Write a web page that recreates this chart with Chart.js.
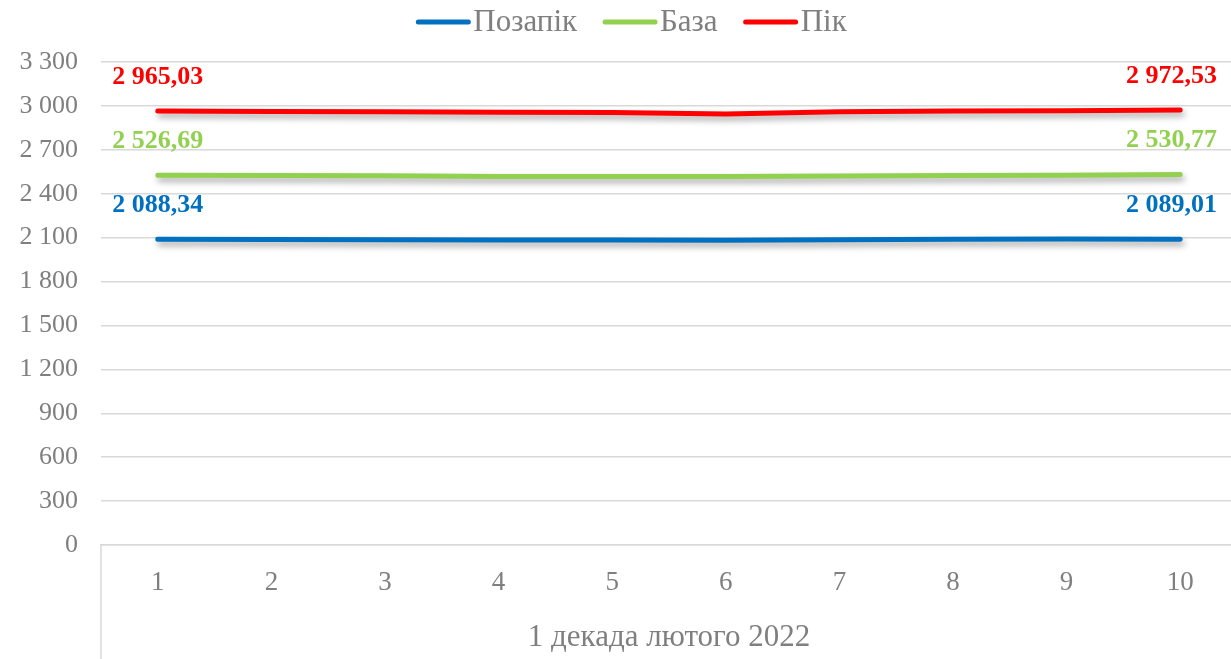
<!DOCTYPE html>
<html>
<head>
<meta charset="utf-8">
<script src="https://cdn.jsdelivr.net/npm/chart.js@4/dist/chart.umd.min.js"></script>
<style>
  html, body { margin: 0; padding: 0; background: #fff; overflow: hidden; width: 1231px; height: 659px; }
  #wrap { position: absolute; left: 0; top: 0; width: 1240px; height: 659px; }
</style>
</head>
<body>
<div id="wrap"><canvas id="c" width="1240" height="659" style="width:1240px;height:659px"></canvas></div>
<script>
const categories = ['1','2','3','4','5','6','7','8','9','10'];
const groupLabel = '1 декада лютого 2022';
const seriesNames = ['Позапік', 'База', 'Пік'];
const pozapik = [2088.34, 2087, 2086, 2083, 2084, 2082, 2086, 2089, 2090, 2089.01];
const baza    = [2526.69, 2524, 2522, 2518, 2518, 2517, 2521, 2524, 2526, 2530.77];
const pik     = [2965.03, 2962, 2960, 2957, 2955, 2945, 2960, 2965, 2967, 2972.53];
const seriesColors = ['#0070C0', '#92D050', '#FF0000'];
const yMin = 0, yMax = 3300, yStep = 300;

const FONT = "'Liberation Serif', 'Times New Roman', serif";
const GRAY = '#7f7f7f';
const GRID = '#d9d9d9';

function fmtInt(n) {
  return String(n).replace(/\B(?=(\d{3})+(?!\d))/g, ' ');
}
function fmtVal(v) {
  const [i, d] = v.toFixed(2).split('.');
  return fmtInt(i) + ',' + d;
}

const shadowPlugin = {
  id: 'shadow',
  beforeDatasetDraw(chart) {
    const ctx = chart.ctx;
    ctx.save();
    ctx.shadowColor = 'rgba(0,0,0,0.35)';
    ctx.shadowBlur = 6;
    ctx.shadowOffsetX = 2;
    ctx.shadowOffsetY = 4;
  },
  afterDatasetDraw(chart) {
    chart.ctx.restore();
  }
};

const decorPlugin = {
  id: 'decor',
  afterDraw(chart) {
    const ctx = chart.ctx;
    const a = chart.chartArea;
    // category group separators
    ctx.save();
    ctx.strokeStyle = GRID;
    ctx.lineWidth = 1.5;
    [a.left, a.right].forEach(x => {
      ctx.beginPath();
      ctx.moveTo(x, a.bottom);
      ctx.lineTo(x, chart.height);
      ctx.stroke();
    });
    ctx.restore();

    // data labels at first and last points
    ctx.save();
    ctx.font = "bold 26px " + FONT;
    ctx.textAlign = 'center';
    ctx.textBaseline = 'middle';
    chart.data.datasets.forEach((ds, di) => {
      const meta = chart.getDatasetMeta(di);
      const last = ds.data.length - 1;
      [0, last].forEach(i => {
        const pt = meta.data[i];
        const txt = fmtVal(ds.data[i]);
        const w = ctx.measureText(txt).width;
        let x = pt.x;
        const maxX = 1231 - 14 - w / 2;
        if (x > maxX) x = maxX;
        ctx.fillStyle = ds.borderColor;
        ctx.fillText(txt, x, pt.y - 34);
      });
    });
    ctx.restore();

    // legend
    ctx.save();
    ctx.font = "31px " + FONT;
    ctx.textBaseline = 'middle';
    const lineW = 56, gapText = 2, gapItem = 25;
    const widths = chart.data.datasets.map(ds => lineW + gapText + ctx.measureText(ds.label).width);
    const total = widths.reduce((s, w) => s + w, 0) + gapItem * (widths.length - 1);
    let x = 631 - total / 2;
    const y = 22;
    chart.data.datasets.forEach((ds, di) => {
      ctx.strokeStyle = ds.borderColor;
      ctx.lineWidth = 5;
      ctx.lineCap = 'round';
      ctx.beginPath();
      ctx.moveTo(x + 3, y);
      ctx.lineTo(x + lineW - 3, y);
      ctx.stroke();
      ctx.fillStyle = GRAY;
      ctx.textAlign = 'left';
      ctx.fillText(ds.label, x + lineW + gapText, y + 1);
      x += widths[di] + gapItem;
    });
    ctx.restore();
  }
};

const seriesData = [pozapik, baza, pik];

new Chart(document.getElementById('c'), {
  type: 'line',
  data: {
    labels: categories,
    datasets: seriesData.map((d, i) => ({
      label: seriesNames[i],
      data: d,
      borderColor: seriesColors[i],
      backgroundColor: seriesColors[i],
      borderWidth: 5,
      borderCapStyle: 'round',
      borderJoinStyle: 'round',
      pointRadius: 0,
      tension: 0,
      fill: false
    }))
  },
  options: {
    responsive: false,
    animation: false,
    devicePixelRatio: 1,
    layout: { padding: { top: 62, left: 0, right: 3, bottom: 0 } },
    plugins: {
      legend: { display: false },
      tooltip: { enabled: false }
    },
    scales: {
      x: {
        offset: true,
        grid: { display: false, drawTicks: false },
        border: { display: true, color: GRID, width: 1.5 },
        ticks: { color: GRAY, font: { family: FONT, size: 27 }, padding: 22, maxRotation: 0 },
        title: { display: true, text: groupLabel, color: GRAY, font: { family: FONT, size: 31 }, padding: { top: 4, bottom: 3 } },
        afterFit(scale) { scale.height = 114; }
      },
      y: {
        min: yMin,
        max: yMax,
        grid: { color: GRID, lineWidth: 1.5, drawTicks: false },
        border: { display: false },
        ticks: {
          stepSize: yStep,
          color: GRAY,
          font: { family: FONT, size: 26 },
          padding: 23,
          callback: v => fmtInt(v)
        },
        afterFit(scale) { scale.width = 101; }
      }
    }
  },
  plugins: [shadowPlugin, decorPlugin]
});
</script>
</body>
</html>
